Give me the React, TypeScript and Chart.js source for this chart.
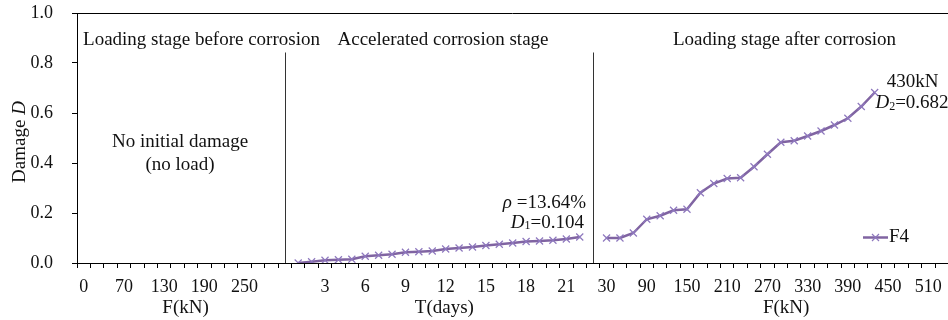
import React, { useEffect, useRef } from 'react';
import { Chart, registerables } from 'chart.js';

Chart.register(...registerables);

const FONT = "'Liberation Serif', 'Times New Roman', serif";

// Category groups on the x axis
const beforeLoads = ['0', '30', '50', '70', '90', '110', '130', '150', '170', '190', '210', '230', '250', '270', '290'];
const corrosionDays = ['1', '2', '3', '4', '5', '6', '7', '8', '9', '10', '11', '12', '13', '14', '15', '16', '17', '18', '19', '20', '21', '22'];
const afterLoads = ['30', '50', '70', '90', '110', '130', '150', '170', '190', '210', '230', '250', '270', '290', '310', '330', '350', '370', '390', '410', '430', '450', '470', '490', '510'];

// Damage values (series F4)
const corrosionDamage = [0.0, 0.005, 0.011, 0.013, 0.015, 0.027, 0.031, 0.035, 0.043, 0.045, 0.048, 0.056, 0.06, 0.064, 0.07, 0.075, 0.08, 0.086, 0.088, 0.091, 0.096, 0.104];
const afterDamage = [0.1, 0.1, 0.12, 0.175, 0.189, 0.211, 0.215, 0.281, 0.318, 0.338, 0.341, 0.385, 0.435, 0.483, 0.489, 0.508, 0.528, 0.552, 0.579, 0.626, 0.682];

const yTicks = [0, 0.2, 0.4, 0.6, 0.8, 1.0];
const separatorTop = 0.842;

const labels = [...beforeLoads, '', ...corrosionDays, '', ...afterLoads];
const sep1 = beforeLoads.length;
const sep2 = sep1 + 1 + corrosionDays.length;
const seriesData: (number | null)[] = [
  ...beforeLoads.map(() => null),
  null,
  ...corrosionDamage,
  null,
  ...afterLoads.map((_, i) => (i < afterDamage.length ? afterDamage[i] : null)),
];

type Part = { t: string; it?: boolean; sub?: boolean };

function drawRich(ctx: CanvasRenderingContext2D, parts: Part[], x: number, y: number, align: 'left' | 'center' | 'right', size: number) {
  const fontFor = (p: Part) => `${p.it ? 'italic ' : ''}${p.sub ? Math.round(size * 0.62) : size}px ${FONT}`;
  let w = 0;
  for (const p of parts) {
    ctx.font = fontFor(p);
    w += ctx.measureText(p.t).width;
  }
  let cx = align === 'left' ? x : align === 'center' ? x - w / 2 : x - w;
  ctx.textAlign = 'left';
  ctx.textBaseline = 'middle';
  for (const p of parts) {
    ctx.font = fontFor(p);
    ctx.fillText(p.t, cx, p.sub ? y + size * 0.18 : y);
    cx += ctx.measureText(p.t).width;
  }
}

const overlayPlugin = {
  id: 'overlay',
  afterDraw(chart: any) {
    const ctx: CanvasRenderingContext2D = chart.ctx;
    const xs = chart.scales.x;
    const ys = chart.scales.y;
    const ca = chart.chartArea;
    ctx.save();
    ctx.strokeStyle = '#000';
    ctx.lineWidth = 1;
    // top border and extended axis line
    const yTop = Math.round(ys.getPixelForValue(1)) + 0.5;
    const y0 = Math.round(ys.getPixelForValue(0)) + 0.5;
    ctx.beginPath();
    ctx.moveTo(ca.left, yTop);
    ctx.lineTo(chart.width, yTop);
    ctx.moveTo(ca.right, y0);
    ctx.lineTo(chart.width, y0);
    ctx.stroke();

    // stage separators
    ctx.strokeStyle = '#333';
    for (const idx of [sep1, sep2]) {
      const px = Math.round(xs.getPixelForValue(idx)) + 0.5;
      ctx.beginPath();
      ctx.moveTo(px, ys.getPixelForValue(0));
      ctx.lineTo(px, ys.getPixelForValue(separatorTop));
      ctx.stroke();
    }

    ctx.fillStyle = '#111';
    const S = 19;
    // stage titles
    drawRich(ctx, [{ t: 'Loading stage before corrosion' }], 201.5, 40, 'center', S);
    drawRich(ctx, [{ t: 'Accelerated corrosion stage' }], 443, 40, 'center', S);
    drawRich(ctx, [{ t: 'Loading stage after corrosion' }], 784.5, 40, 'center', S);
    drawRich(ctx, [{ t: 'No initial damage' }], 180, 141.7, 'center', S);
    drawRich(ctx, [{ t: '(no load)' }], 180, 165, 'center', S);

    // end-of-corrosion annotation
    drawRich(ctx, [{ t: 'ρ', it: true }, { t: ' =13.64%' }], 586, 202.7, 'right', S);
    drawRich(ctx, [{ t: 'D', it: true }, { t: '1', sub: true }, { t: '=0.104' }], 584, 222.7, 'right', S);

    // final annotation
    drawRich(ctx, [{ t: '430kN' }], 912.5, 81.7, 'center', S);
    drawRich(ctx, [{ t: 'D', it: true }, { t: '2', sub: true }, { t: '=0.682' }], 912, 103.3, 'center', S);

    // x axis group titles
    const tY = 308;
    drawRich(ctx, [{ t: 'F(kN)' }], xs.getPixelForValue(7.6), tY, 'center', S);
    drawRich(ctx, [{ t: 'T(days)' }], xs.getPixelForValue(26.9), tY, 'center', S);
    drawRich(ctx, [{ t: 'F(kN)' }], xs.getPixelForValue(52.4), tY, 'center', S);

    // y axis title
    ctx.save();
    ctx.translate(20, 142);
    ctx.rotate(-Math.PI / 2);
    drawRich(ctx, [{ t: 'Damage ' }, { t: 'D', it: true }], 0, 0, 'center', S);
    ctx.restore();

    // legend
    const ds = chart.data.datasets[0];
    const ly = 237.5;
    ctx.strokeStyle = ds.borderColor;
    ctx.lineWidth = ds.borderWidth;
    ctx.beginPath();
    ctx.moveTo(863, ly);
    ctx.lineTo(888, ly);
    ctx.stroke();
    ctx.strokeStyle = ds.pointBorderColor;
    ctx.lineWidth = ds.pointBorderWidth;
    const r = ds.pointRadius * 0.7;
    ctx.beginPath();
    ctx.moveTo(875.5 - r, ly - r);
    ctx.lineTo(875.5 + r, ly + r);
    ctx.moveTo(875.5 - r, ly + r);
    ctx.lineTo(875.5 + r, ly - r);
    ctx.stroke();
    ctx.fillStyle = '#111';
    drawRich(ctx, [{ t: ds.label }], 889, ly, 'left', S);
    ctx.restore();
  },
};

export default function App() {
  const ref = useRef<HTMLCanvasElement>(null);
  useEffect(() => {
    if (!ref.current) return;
    const chart = new Chart(ref.current, {
      type: 'line',
      data: {
        labels,
        datasets: [
          {
            label: 'F4',
            data: seriesData,
            borderColor: '#8064A2',
            borderWidth: 2.5,
            pointStyle: 'crossRot',
            pointRadius: 5,
            pointHoverRadius: 5,
            pointBorderColor: '#8E78BE',
            pointBackgroundColor: 'rgba(0,0,0,0)',
            pointBorderWidth: 1.2,
            spanGaps: false,
            tension: 0,
          } as any,
        ],
      },
      options: {
        responsive: false,
        animation: false,
        layout: { padding: { top: 13, right: 13, left: 0, bottom: 0 } },
        plugins: { legend: { display: false }, tooltip: { enabled: false } },
        scales: {
          x: {
            type: 'category',
            offset: true,
            afterFit: (s: any) => {
              s.height = 57;
              s.paddingLeft = 0;
              s.paddingRight = 0;
            },
            grid: { display: true, offset: true, drawOnChartArea: false, drawTicks: true, tickLength: 5, color: '#000' },
            border: { display: true, color: '#000', width: 1 },
            ticks: {
              autoSkip: false,
              maxRotation: 0,
              padding: 8,
              color: '#111',
              font: { family: FONT, size: 18 },
              callback: (_v: any, i: number) => (i % 3 === 0 ? labels[i] : ''),
            },
          },
          y: {
            min: yTicks[0],
            max: yTicks[yTicks.length - 1],
            afterFit: (s: any) => {
              s.width = 77;
              s.paddingTop = 0;
              s.paddingBottom = 0;
            },
            afterBuildTicks: (s: any) => {
              s.ticks = yTicks.map((v) => ({ value: v }));
            },
            grid: { display: true, drawOnChartArea: false, drawTicks: true, tickLength: 5, color: '#000' },
            border: { display: true, color: '#000', width: 1 },
            ticks: {
              padding: 19,
              color: '#111',
              font: { family: FONT, size: 18 },
              callback: (v: any) => Number(v).toFixed(1),
            },
          },
        },
      },
      plugins: [overlayPlugin],
    });
    return () => chart.destroy();
  }, []);
  return (
    <div style={{ position: 'fixed', left: 0, top: 0, width: 948, height: 320, background: '#fff' }}>
      <canvas ref={ref} width={948} height={320} style={{ display: 'block' }} />
    </div>
  );
}
